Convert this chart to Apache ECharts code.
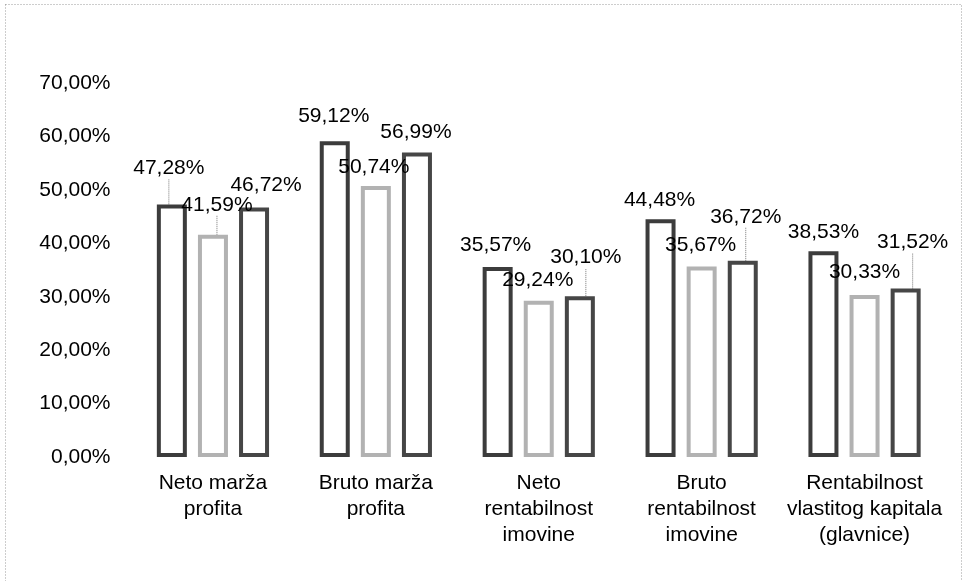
<!DOCTYPE html>
<html>
<head>
<meta charset="utf-8">
<script src="https://cdn.jsdelivr.net/npm/echarts@6/dist/echarts.min.js"></script>
<style>
html,body{margin:0;padding:0;background:#fff;}
#chart{width:965px;height:581px;}
</style>
</head>
<body>
<div id="chart"></div>
<script>
// ---- data ----
const categories = [
  'Neto marža\nprofita',
  'Bruto marža\nprofita',
  'Neto\nrentabilnost\nimovine',
  'Bruto\nrentabilnost\nimovine',
  'Rentabilnost\nvlastitog kapitala\n(glavnice)'
];
const series1 = [47.28, 59.12, 35.57, 44.48, 38.53];
const series2 = [41.59, 50.74, 29.24, 35.67, 30.33];
const series3 = [46.72, 56.99, 30.10, 36.72, 31.52];
const yTicks = [0, 10, 20, 30, 40, 50, 60, 70];

// label nudges (dx, dy) and which labels have a leader line
const labelShift1 = [[-3, -21], [-1, -9], [-2, -6], [-1, -4], [0, -3]];
const labelShift2 = [[4, -14], [-2, -3], [-1, -5], [-1, -6], [0, -7]];
const labelShift3 = [[12, -7], [-1, -5], [6, -23], [3, -28], [7, -31]];
const leader1 = [true, false, false, false, false];
const leader2 = [true, false, false, false, false];
const leader3 = [false, false, true, true, true];

const FONT = '"Liberation Sans", Arial, sans-serif';
const fmt = v => v.toFixed(2).replace('.', ',') + '%';

function makeSeries(name, values, shifts, leaders, color) {
  return {
    name: name,
    type: 'bar',
    barWidth: 30,
    barGap: '37%',
    data: values.map((v, i) => ({ value: v, labelLine: { show: leaders[i] } })),
    itemStyle: { color: '#ffffff', borderColor: color, borderWidth: 4 },
    label: {
      show: true,
      position: 'top',
      distance: 5,
      color: '#000',
      fontFamily: FONT,
      fontSize: 21,
      formatter: p => fmt(p.value)
    },
    labelLine: {
      show: false,
      lineStyle: { color: '#777', width: 1, type: 'dotted' }
    },
    labelLayout: p => ({ dx: shifts[p.dataIndex][0], dy: shifts[p.dataIndex][1] })
  };
}

const chart = echarts.init(document.getElementById('chart'), null, { renderer: 'canvas' });
chart.setOption({
  animation: false,
  backgroundColor: '#fff',
  graphic: [{
    type: 'rect',
    shape: { x: 5.5, y: 4.5, width: 956, height: 600 },
    style: { fill: 'none', stroke: '#9a9a9a', lineWidth: 1, lineDash: [1, 2] },
    silent: true
  }],
  grid: { left: 131.5, right: 19, top: 83, bottom: 124, containLabel: false },
  xAxis: {
    type: 'category',
    data: categories,
    axisLine: { show: false },
    axisTick: { show: false },
    axisLabel: {
      interval: 0,
      margin: 13,
      color: '#000',
      fontFamily: FONT,
      fontSize: 21,
      lineHeight: 26
    }
  },
  yAxis: {
    type: 'value',
    min: yTicks[0],
    max: yTicks[yTicks.length - 1],
    interval: yTicks[1] - yTicks[0],
    axisLine: { show: false },
    axisTick: { show: false },
    splitLine: { show: false },
    axisLabel: {
      margin: 21,
      color: '#000',
      fontFamily: FONT,
      fontSize: 21,
      formatter: v => fmt(v)
    }
  },
  series: [
    makeSeries('Serija 1', series1, labelShift1, leader1, '#3c3c3c'),
    makeSeries('Serija 2', series2, labelShift2, leader2, '#b2b2b2'),
    makeSeries('Serija 3', series3, labelShift3, leader3, '#464646')
  ]
});
</script>
</body>
</html>
